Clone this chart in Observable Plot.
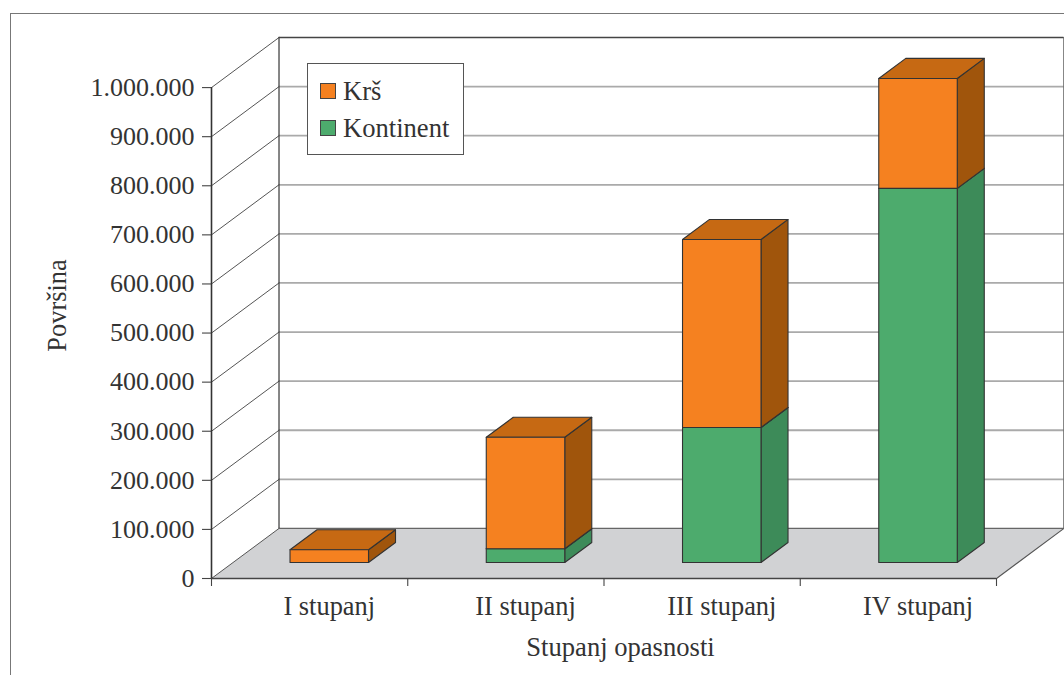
<!DOCTYPE html>
<html>
<head>
<meta charset="utf-8">
<script src="https://cdn.jsdelivr.net/npm/d3@7"></script>
<script src="https://cdn.jsdelivr.net/npm/@observablehq/plot@0.6"></script>
<style>
  html, body { margin: 0; padding: 0; background: #fff; }
  #page { position: relative; width: 1064px; height: 675px; overflow: hidden; font-family: "Liberation Serif", serif; color: #333; }
  #page svg { position: absolute; left: 0; top: 0; background: transparent; }
  #frame { position: absolute; left: 10px; top: 13px; right: -5px; bottom: -5px; border-left: 1.5px solid #777; border-top: 1.5px solid #777; }
  #legend { position: absolute; left: 307px; top: 63px; width: 155px; height: 90px; background: #fff; border: 1.3px solid #555; box-sizing: content-box; font-size: 26.6px; }
  #legend div { position: absolute; left: 12px; display: flex; align-items: center; gap: 7px; line-height: 30px; white-space: nowrap; }
  #legend i { display: inline-block; width: 14px; height: 14px; border: 1.3px solid #444; }
</style>
</head>
<body>
<div id="page"><div id="frame"></div></div>
<script>
const categories = ["I stupanj", "II stupanj", "III stupanj", "IV stupanj"];
const kontinent = [0, 28000, 275000, 762000];
const krs = [26000, 227000, 383000, 224000];
const valueTicks = [0, 100000, 200000, 300000, 400000, 500000, 600000, 700000, 800000, 900000, 1000000];
const seriesNames = ["Krš", "Kontinent"];
const yAxisTitle = "Površina";
const xAxisTitle = "Stupanj opasnosti";

const orange = {front: "#F58120", top: "#C66913", side: "#A0550C"};
const green = {front: "#4DAB6D", top: "#3D8B59", side: "#3D8B59"};
const floorFill = "#D1D2D4";

// Oblique projection: one unit of depth moves a point this far in scale units.
const depthX = 0.344, depthY = 102000;
const barDepthFront = 0.32, barDepthBack = 0.72, barHalf = 0.2, barCenter = 0.49;
const px = (u, d) => u + d * depthX;
const py = (v, d) => v + d * depthY;

function polygon(id, fill, pts) {
  return [...pts, pts[0]].map(([u, d, v]) => ({id, fill, x: px(u, d), y: py(v, d)}));
}
function box(id, c, u0, u1, v0, v1) {
  const a = barDepthFront, b = barDepthBack;
  return [
    ...polygon(id + "s", c.side, [[u1, a, v0], [u1, b, v0], [u1, b, v1], [u1, a, v1]]),
    ...polygon(id + "t", c.top, [[u0, a, v1], [u1, a, v1], [u1, b, v1], [u0, b, v1]]),
    ...polygon(id + "f", c.front, [[u0, a, v0], [u1, a, v0], [u1, a, v1], [u0, a, v1]])
  ];
}
const bars = categories.flatMap((_, i) => {
  const u0 = i + barCenter - barHalf, u1 = i + barCenter + barHalf;
  const out = [];
  if (kontinent[i] > 0) out.push(...box("k" + i, green, u0, u1, 0, kontinent[i]));
  out.push(...box("o" + i, orange, u0, u1, kontinent[i], kontinent[i] + krs[i]));
  return out;
});
const floorPoly = polygon("floor", floorFill, [[0, 0, 0], [4, 0, 0], [4, 1, 0], [0, 1, 0]]);
const diagonals = valueTicks.flatMap(v => [
  {id: v, x: px(0, 0), y: py(v, 0)},
  {id: v, x: px(0, 1), y: py(v, 1)}
]);
const backLevels = valueTicks.slice(1, -1);
const topValue = valueTicks[valueTicks.length - 1];
const fmt = d => d3.format(",")(d).replace(/,/g, ".");

const chart = Plot.plot({
  width: 1064, height: 675,
  marginLeft: 211, marginRight: 68, marginTop: 38, marginBottom: 97,
  x: {domain: [0, 4], axis: null},
  y: {domain: [0, 1100000], axis: null},
  style: {fontFamily: "'Liberation Serif', serif", color: "#333", background: "transparent"},
  marks: [
    Plot.line(floorPoly, {x: "x", y: "y", z: "id", fill: floorFill, stroke: "none"}),
    Plot.ruleY(backLevels, {x1: px(0, 1), x2: px(4, 1), y: d => py(d, 1), stroke: "#aaa", strokeWidth: 1.8}),
    Plot.ruleY([0], {x1: px(0, 1), x2: px(4, 1), y: py(0, 1), stroke: "#666", strokeWidth: 1.3}),
    Plot.ruleY([topValue], {x1: px(0, 1), x2: px(4, 1), y: py(topValue, 1), stroke: "#444", strokeWidth: 1.5}),
    Plot.line(diagonals, {x: "x", y: "y", z: "id", stroke: "#555", strokeWidth: 1}),
    Plot.ruleX([0], {x: px(0, 1), y1: py(0, 1), y2: py(topValue, 1), stroke: "#444", strokeWidth: 1.3}),
    Plot.ruleX([4], {x: px(4, 1), y1: py(0, 1), y2: py(topValue, 1), stroke: "#444", strokeWidth: 1.3}),
    Plot.line([{x: px(4, 0), y: 0}, {x: px(4, 1), y: py(0, 1)}], {x: "x", y: "y", stroke: "#555", strokeWidth: 1.1}),
    Plot.ruleX([0], {y1: 0, y2: topValue, stroke: "#333", strokeWidth: 1.6}),
    Plot.ruleY([0], {x1: 0, x2: 4, stroke: "#444", strokeWidth: 1.5}),
    Plot.line(bars, {x: "x", y: "y", z: "id", fill: "fill", stroke: "#333", strokeWidth: 1.1, strokeLinejoin: "round"}),
    Plot.axisY({ticks: valueTicks, tickFormat: fmt, tickSize: 9, tickPadding: 8, fontSize: 26, stroke: "#444", strokeWidth: 1.1, label: null, anchor: "left"}),
    Plot.axisX({ticks: [0, 1, 2, 3, 4], tickSize: 8, tickFormat: () => "", stroke: "#444", strokeWidth: 1.1, label: null, anchor: "bottom"}),
    Plot.text(categories, {x: (_, i) => i + barCenter + barDepthFront * depthX, y: 0, dy: 28, text: d => d, fontSize: 26.4, fill: "#333"}),
    Plot.text([xAxisTitle], {frameAnchor: "bottom", dx: 16.5, dy: 77, fontSize: 26.6, fill: "#333"}),
    Plot.text([yAxisTitle], {frameAnchor: "left", textAnchor: "middle", rotate: -90, dx: -154, dy: -3, fontSize: 26.4, fill: "#333"})
  ]
});
const page = document.getElementById("page");
page.appendChild(chart);

const legend = document.createElement("div");
legend.id = "legend";
seriesNames.forEach((name, i) => {
  const row = document.createElement("div");
  row.style.top = (12 + i * 37) + "px";
  const sw = document.createElement("i");
  sw.style.background = i === 0 ? orange.front : green.front;
  row.appendChild(sw);
  row.appendChild(document.createTextNode(name));
  legend.appendChild(row);
});
page.appendChild(legend);
</script>
</body>
</html>
